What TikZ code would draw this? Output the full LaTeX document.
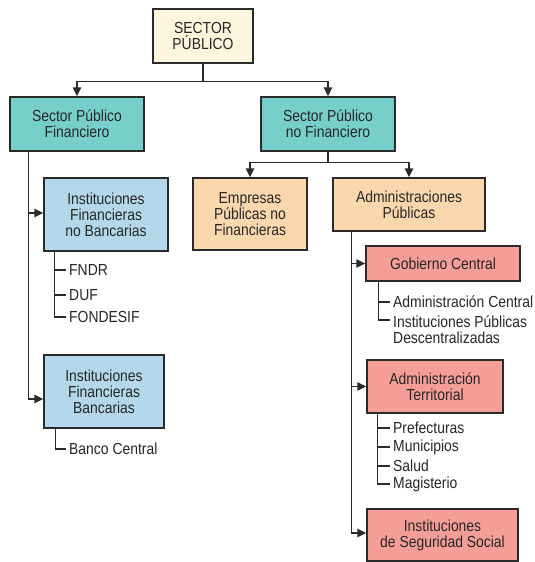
\documentclass[tikz,border=0pt]{standalone}
\usepackage{fontspec}
\setmainfont{Liberation Sans}[FakeStretch=0.87]
\usetikzlibrary{arrows.meta,calc}
\definecolor{cream}{HTML}{FDF6DD}
\definecolor{teal}{HTML}{77CFCB}
\definecolor{lblue}{HTML}{B3D8EB}
\definecolor{peach}{HTML}{FBD7AE}
\definecolor{salmon}{HTML}{F49E97}
\definecolor{edge}{HTML}{2A2A2A}
\definecolor{ink}{HTML}{262626}
\tikzset{
  box/.style={draw=edge, line width=1.4pt, rectangle, inner sep=0pt, align=center,
    text=ink, font=\fontsize{16}{16}\selectfont},
  item/.style={inner xsep=3pt, inner ysep=0pt, anchor=west, align=left,
    text=ink, font=\fontsize{16}{16}\selectfont},
  conn/.style={draw=edge, line width=1.4pt},
  arr/.style={conn, -{Triangle[length=9pt,width=8.5pt]}},
}
\begin{document}
\begin{tikzpicture}[x=1pt,y=-1pt]
\useasboundingbox (0,0) rectangle (535,562);
% boxes
\node[box, fill=cream, minimum width=100pt, minimum height=54pt] (sp) at (203,36) {SECTOR\\PÚBLICO};
\node[box, fill=teal, minimum width=134pt, minimum height=54pt] (spf) at (77,124) {Sector Público\\Financiero};
\node[box, fill=teal, minimum width=134pt, minimum height=54pt] (spnf) at (328,124) {Sector Público\\no Financiero};
\node[box, fill=lblue, minimum width=124pt, minimum height=73pt] (ifnb) at (106,214.5) {Instituciones\\Financieras\\no Bancarias};
\node[box, fill=lblue, minimum width=120pt, minimum height=73pt] (ifb) at (104,391.5) {Instituciones\\Financieras\\Bancarias};
\node[box, fill=peach, minimum width=114pt, minimum height=72pt] (epnf) at (250,214) {Empresas\\Públicas no\\Financieras};
\node[box, fill=peach, minimum width=152pt, minimum height=53pt] (ap) at (409,204.5) {Administraciones\\Públicas};
\node[box, fill=salmon, minimum width=154pt, minimum height=35pt] (gc) at (443,263.5) {Gobierno Central};
\node[box, fill=salmon, minimum width=136pt, minimum height=53pt] (at) at (435,386.5) {Administración\\Territorial};
\node[box, fill=salmon, minimum width=151pt, minimum height=52pt] (iss) at (442.5,535) {Instituciones\\de Seguridad Social};
% items
\node[item] (fndr) at (66,270) {FNDR};
\node[item] (duf) at (66,295) {DUF};
\node[item] (fon) at (66,317) {FONDESIF};
\node[item] (bc) at (66,449) {Banco Central};
\node[item] (adc) at (390,302) {Administración Central};
\node[item] (ipd) at (390,329.5) {Instituciones Públicas\\Descentralizadas};
\node[item] (pref) at (390,428) {Prefecturas};
\node[item] (mun) at (390,447) {Municipios};
\node[item] (sal) at (390,466) {Salud};
\node[item] (mag) at (390,484) {Magisterio};
% top connectors
\draw[conn] (sp.south) -- ++(0,18) coordinate (j1);
\draw[arr] (j1) -| (spf.north);
\draw[arr] (j1) -| (spnf.north);
\draw[conn] (spnf.south) -- ++(0,11) coordinate (j2);
\draw[arr] (j2) -| (epnf.north);
\draw[arr] (j2) -| (ap.north);
% left trunk
\coordinate (tl) at ($(spf.south west)+(19,0)$);
\draw[arr] (tl) |- ([yshift=1.5pt]ifnb.west);
\draw[arr] (tl) |- ([yshift=-7.5pt]ifb.west);
% right trunk
\coordinate (tr) at ($(ap.south west)+(19,0)$);
\draw[arr] (tr) |- (gc.west);
\draw[arr] (tr) |- (at.west);
\draw[arr] (tr) |- ([yshift=2pt]iss.west);
% sub items
\coordinate (s1) at ($(ifnb.south west)+(11,0)$);
\draw[conn] (s1) |- (fndr.west);
\draw[conn] (s1) |- (duf.west);
\draw[conn] (s1) |- (fon.west);
\coordinate (s2) at ($(ifb.south west)+(12,0)$);
\draw[conn] (s2) |- (bc.west);
\coordinate (s3) at ($(gc.south west)+(13,0)$);
\draw[conn] (s3) |- (adc.west);
\draw[conn] (s3) |- ([yshift=9.5pt]ipd.west);
\coordinate (s4) at ($(at.south west)+(11,0)$);
\draw[conn] (s4) |- (pref.west);
\draw[conn] (s4) |- (mun.west);
\draw[conn] (s4) |- (sal.west);
\draw[conn] (s4) |- (mag.west);
\end{tikzpicture}
\end{document}
